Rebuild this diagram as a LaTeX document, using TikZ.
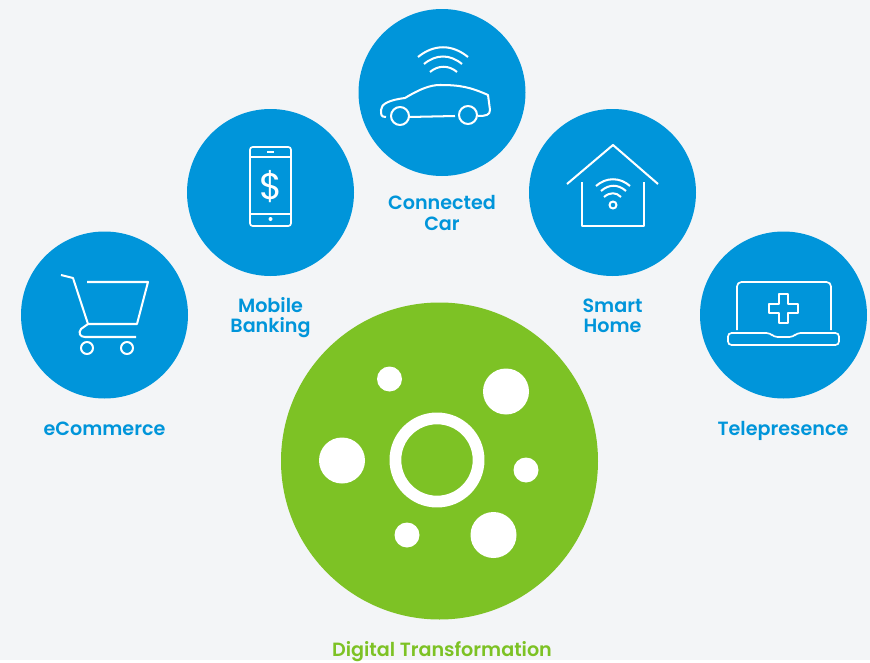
\documentclass[tikz,border=0pt]{standalone}
\usepackage{fontspec}
\setmainfont{Poppins}[BoldFont={Poppins SemiBold}]
\definecolor{pagebg}{HTML}{F3F5F7}
\definecolor{iconblue}{HTML}{0095DA}
\definecolor{leafgreen}{HTML}{7DC225}
\tikzset{
  bubble/.style={circle,fill=iconblue,minimum size=167*0.02cm,inner sep=0pt},
  caption/.style={text=iconblue,font=\fontsize{10.9}{11.6}\selectfont\bfseries,align=center,inner sep=0pt},
  glyph/.style={draw=white,line width=1.15pt,line join=round},
  thinglyph/.style={draw=white,line width=0.95pt,line join=round},
  spot/.style={circle,fill=white,inner sep=0pt}
}
\begin{document}
\begin{tikzpicture}[x=0.02cm,y=-0.02cm]
  \fill[pagebg] (0,0) rectangle (870,660);
  % circles
  \node[bubble] (cart) at (104.5,315) {};
  \node[bubble] (bank) at (270.5,192.5) {};
  \node[bubble] (car) at (442,92.5) {};
  \node[bubble] (home) at (612.5,192.5) {};
  \node[bubble] (tele) at (783.5,315) {};
  \node[circle,fill=leafgreen,minimum size=317*0.02cm,inner sep=0pt] (digital) at (439.5,461) {};
  % labels
  \node[caption] (cartlabel) at (104.5,429) {eCommerce};
  \node[caption] (banklabel) at (270.5,317.5) {Mobile\\Banking};
  \node[caption] (carlabel) at (442,213) {Connected\\Car};
  \node[caption] (homelabel) at (612.5,315.5) {Smart\\Home};
  \node[caption] (telelabel) at (783,431) {Telepresence};
  \node[caption,text=leafgreen] (digitallabel) at (442,652) {Digital Transformation};
  % green circle
  \draw[white,line width=6.7pt] (437,460) circle (41.6);
  \node[spot,minimum size=25*0.02cm] (s1) at (389.5,379) {};
  \node[spot,minimum size=46*0.02cm] (s2) at (506,391.5) {};
  \node[spot,minimum size=46*0.02cm] (s3) at (342,460.5) {};
  \node[spot,minimum size=25*0.02cm] (s4) at (526,470) {};
  \node[spot,minimum size=25*0.02cm] (s5) at (407,535) {};
  \node[spot,minimum size=46*0.02cm] (s6) at (493.5,535) {};
  % cart
  \draw[glyph] (61,275) -- (73,278) -- (88,324) -- (137,324) -- (148,282) -- (87,282);
  \draw[glyph] (88,324) -- (81,329) .. controls (78,333) and (80,337) .. (85,337) -- (136,337);
  \draw[glyph] (87,348) circle (6) (127,348) circle (6);
  % phone
  \draw[thinglyph,rounded corners=1.5pt] (250,147) rectangle (291,226);
  \draw[thinglyph] (250,157) -- (291,157) (250,214) -- (291,214) (267,152) -- (274,152);
  \fill[white] (270.5,219) circle (2);
  \node[text=white,inner sep=0pt,font=\fontsize{21}{21}\selectfont] (dollar) at (270.5,187) {\$};
  % car
  \draw[glyph] (418,57) .. controls (434,44) and (452,44) .. (468,57);
  \draw[glyph] (424,64) .. controls (436,54) and (450,54) .. (462,64);
  \draw[glyph] (430,72) .. controls (438,65) and (449,65) .. (457,72);
  \draw[glyph] (386,117) .. controls (381,117) and (381,115) .. (381,110) .. controls (381,104) and (389,100) .. (405,98)
    .. controls (420,89) and (430,85) .. (440,85) .. controls (460,85) and (470,87) .. (488,95) -- (490,110) .. controls (490,115) and (486,116) .. (478,116);
  \draw[glyph] (400,116) circle (9) (468,115) circle (9);
  \draw[glyph] (409,117) -- (455,116);
  % house
  \draw[glyph] (567,184) -- (613,145) -- (658,184);
  \draw[glyph] (582,182) -- (582,226) -- (644,226) -- (644,182);
  \draw[glyph] (596,186) .. controls (606,177) and (620,177) .. (630,186);
  \draw[glyph] (601,191) .. controls (609,184) and (618,184) .. (626,191);
  \draw[glyph] (604,197) .. controls (610,192) and (616,192) .. (621,197);
  \draw[glyph] (613,205) circle (3.5);
  % laptop
  \draw[thinglyph,rounded corners=2.5pt] (737,330) -- (737,282) -- (831,282) -- (831,330);
  \draw[thinglyph,rounded corners=2pt] (770,333) -- (728,333) -- (728,345) -- (839,345) -- (839,333) -- (797,333) -- (793,337) -- (774,337) -- cycle;
  \draw[thinglyph] (779,294) -- (788,294) -- (788,304) -- (798,304) -- (798,313) -- (788,313) -- (788,323) -- (779,323) -- (779,313) -- (769,313) -- (769,304) -- (779,304) -- cycle;
\end{tikzpicture}
\end{document}
